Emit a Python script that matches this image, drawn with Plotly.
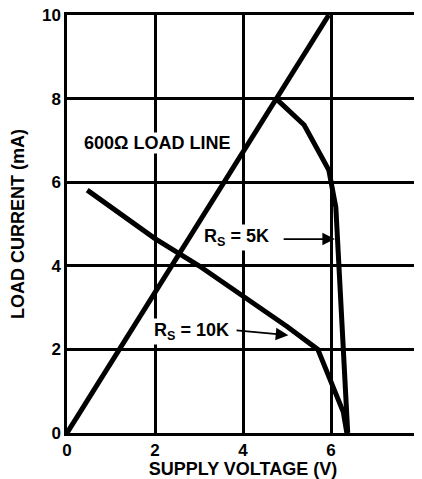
import plotly.graph_objects as go

# 600 ohm load line
load_v = [0, 5.95]
load_i = [0, 10]

# Rs = 5K curve
rs5k_v = [4.75, 5.39, 5.95, 6.11, 6.38]
rs5k_i = [8.0, 7.37, 6.29, 5.4, 0.0]

# Rs = 10K curve
rs10k_v = [0.46, 2.0, 3.0, 4.0, 5.0, 5.7, 6.0, 6.28, 6.36]
rs10k_i = [5.81, 4.65, 4.0, 3.27, 2.55, 2.0, 1.2, 0.5, 0.0]

x_ticks = [0, 2, 4, 6, 8]
y_ticks = [0, 2, 4, 6, 8, 10]

FONT = "Liberation Sans, Arial, sans-serif"
line_style = dict(color="black", width=5)

fig = go.Figure()
fig.add_trace(go.Scatter(x=load_v, y=load_i, mode="lines", line=line_style))
fig.add_trace(go.Scatter(x=rs5k_v, y=rs5k_i, mode="lines", line=line_style))
fig.add_trace(go.Scatter(x=rs10k_v, y=rs10k_i, mode="lines", line=line_style))

txt_font = dict(family=FONT, size=18, color="black")
fig.add_annotation(x=2.05, y=6.94, text="<b>600Ω LOAD LINE</b>", showarrow=False,
                   font=txt_font, bgcolor="white", borderpad=0)
fig.add_annotation(x=3.85, y=4.67, text="<b>R<sub>S</sub> = 5K</b>", showarrow=False,
                   font=txt_font, bgcolor="white", borderpad=1)
fig.add_annotation(x=2.83, y=2.44, text="<b>R<sub>S</sub> = 10K</b>", showarrow=False,
                   font=txt_font, bgcolor="white", borderpad=1)
# arrows
fig.add_annotation(x=6.09, y=4.64, ax=4.89, ay=4.64, axref="x", ayref="y",
                   text="", showarrow=True, arrowhead=2, arrowsize=1.4,
                   arrowwidth=1.8, arrowcolor="black")
fig.add_annotation(x=5.03, y=2.34, ax=3.82, ay=2.46, axref="x", ayref="y",
                   text="", showarrow=True, arrowhead=2, arrowsize=1.4,
                   arrowwidth=1.8, arrowcolor="black")

axis_common = dict(showgrid=True, gridcolor="black", gridwidth=2.5,
                   showline=True, linecolor="black", linewidth=2.5, mirror=True,
                   zeroline=False, ticks="", automargin=False,
                   ticklabeloverflow="allow",
                   tickfont=dict(family=FONT, size=17, color="black"))

fig.update_xaxes(range=[0, 8], tickvals=x_ticks,
                 ticktext=[f"<b>{v}</b>" for v in x_ticks],
                 title=dict(text="<b>SUPPLY VOLTAGE (V)</b>", standoff=0,
                            font=dict(family=FONT, size=18, color="black")),
                 **axis_common)
fig.update_yaxes(range=[0, 10], tickvals=y_ticks,
                 ticktext=[f"<b>{v}</b>" for v in y_ticks],
                 title=dict(text="<b>LOAD CURRENT (mA)</b>", standoff=22,
                            font=dict(family=FONT, size=18, color="black")),
                 **axis_common)

# page body has an 8px margin, so the figure is sized/offset to compensate
fig.update_layout(width=414, height=471, showlegend=False,
                  margin=dict(l=59, r=3, t=7, b=46),
                  plot_bgcolor="white", paper_bgcolor="white")

fig.write_html("out.html")
